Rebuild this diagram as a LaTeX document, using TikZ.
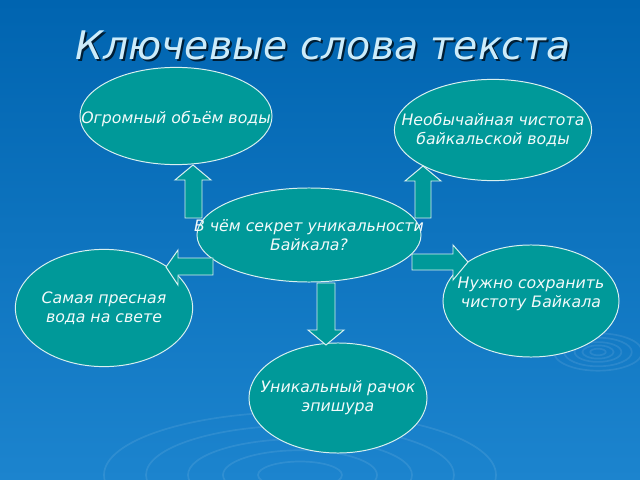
\documentclass[tikz,border=0pt]{standalone}
\usepackage{fontspec}
\setmainfont{DejaVu Sans}
\usetikzlibrary{positioning}
\usetikzlibrary{shapes.geometric}
\definecolor{sea}{RGB}{0,153,153}
\definecolor{skytop}{RGB}{0,100,176}
\definecolor{skybot}{RGB}{28,132,206}
\definecolor{titlecol}{RGB}{205,236,250}
\tikzset{
	bubble/.style={ellipse,fill=sea,draw=white!85!sea,line width=0.7pt,inner sep=0pt},
	words/.style={text=white!95!sea,align=center,font=\itshape\fontsize{11.2}{13.5}\selectfont},
	blk/.style={fill=sea,draw=white!85!sea,line width=0.7pt,line join=miter},
	ripple/.style={draw=white,opacity=0.09,line width=1.2pt}
}

\begin{document}
\begin{tikzpicture}[x=0.025cm,y=-0.025cm]
	\shade[top color=skytop,bottom color=skybot] (0,0) rectangle (640,480);
	\useasboundingbox (0,0) rectangle (640,480);
	% ripples
	\foreach \r in {6,12,18,26,34} \draw[ripple] (598,352) ellipse ({\r*1.3} and \r*0.55);
	\foreach \r in {30,55,80,110,140} \draw[ripple] (300,475) ellipse ({\r*1.4} and \r*0.45);
	% title
	\node[font=\itshape\fontsize{28}{30}\selectfont,text=black,opacity=0.7] at (325,47) {Ключевые слова текста};
	\node[font=\itshape\fontsize{28}{30}\selectfont,text=titlecol] (title) at (323,45) {Ключевые слова текста};
	% ellipses
	\node[bubble,minimum width=4.8cm,minimum height=2.43cm] (og) at (176,116) {};
	\node[bubble,minimum width=4.93cm,minimum height=2.53cm] (neo) at (493,130) {};
	\node[bubble,minimum width=5.6cm,minimum height=2.35cm] (sec) at (309,235) {};
	\node[bubble,minimum width=4.43cm,minimum height=2.93cm] (pres) at (104,308) {};
	\node[bubble,minimum width=4.4cm,minimum height=2.8cm] (nuzh) at (531,301) {};
	\node[bubble,minimum width=4.45cm,minimum height=2.75cm] (rach) at (338,398) {};
	\node[words] at ([yshift=-2pt]og) {Огромный объём воды};
	\node[words] at (neo) {Необычайная чистота\\байкальской воды};
	\node[words] at (sec) {В чём секрет уникальности\\Байкала?};
	\node[words] at (pres) {Самая пресная\\вода на свете};
	\node[words] at ([yshift=5pt]nuzh) {Нужно сохранить\\чистоту Байкала};
	\node[words] at (rach) {Уникальный рачок\\эпишура};
	% block arrows
	\draw[blk] (193,165) -- (211,180) -- (202,180) -- (202,218) -- (185,218) -- (185,180) -- (175,180) -- cycle;
	\draw[blk] (423,166) -- (441,181) -- (431,181) -- (431,218) -- (415,218) -- (415,181) -- (405,181) -- cycle;
	\draw[blk] (166,267) -- (178,250) -- (178,258) -- (213,258) -- (213,275) -- (178,275) -- (178,285) -- cycle;
	\draw[blk] (468,262) -- (453,245) -- (453,254) -- (412,254) -- (412,270) -- (453,270) -- (453,280) -- cycle;
	\draw[blk] (326,345) -- (308,330) -- (317,330) -- (317,283) -- (335,283) -- (335,330) -- (344,330) -- cycle;
\end{tikzpicture}
\end{document}
